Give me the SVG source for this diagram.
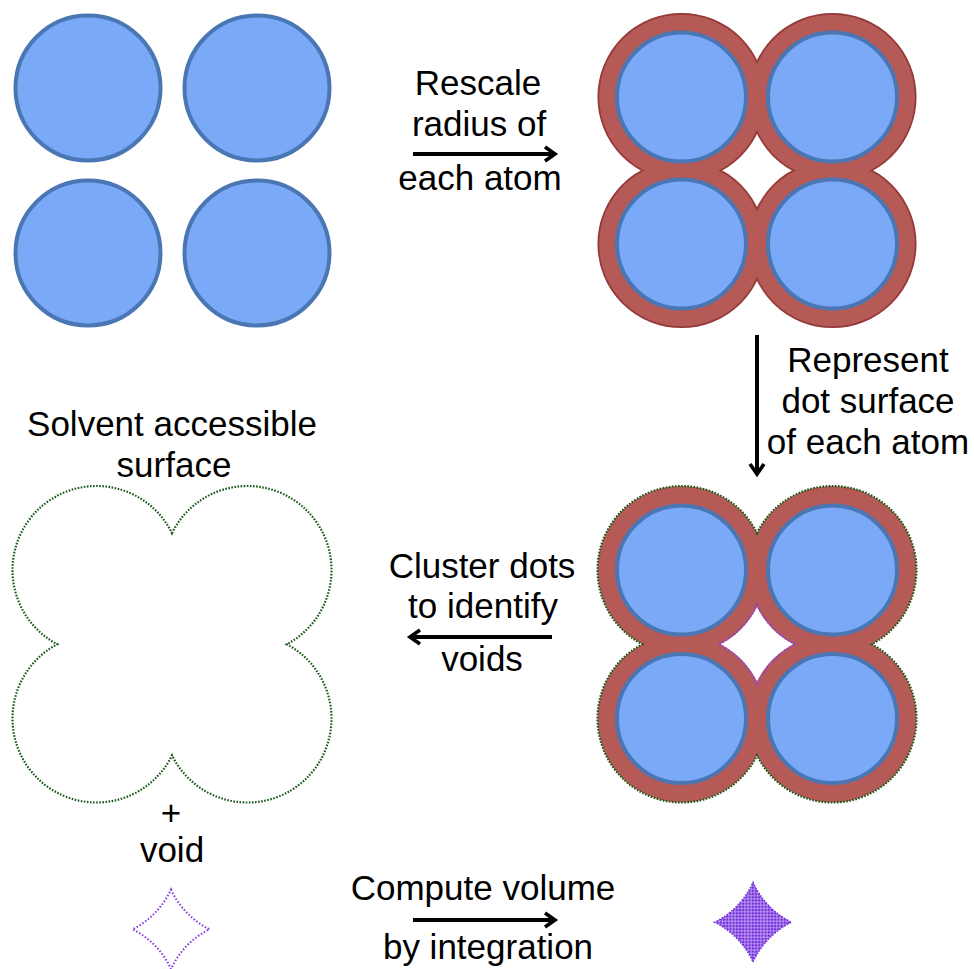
<svg xmlns="http://www.w3.org/2000/svg" width="974" height="969" viewBox="0 0 974 969">
<style>
.atom{fill:#7aa9f7;stroke:#4a76b3;stroke-width:4}
.shell{fill:#b55a57}
.shellEdge{fill:none;stroke:#943a38;stroke-width:3.5}
.sas{fill:none;stroke:#1a5a1a;stroke-width:2.2;stroke-dasharray:1.6 1.5}
.voidline{fill:none;stroke:#8a3fe0;stroke-width:2;stroke-dasharray:1.6 1.8}
.lbl{font-family:"Liberation Sans",Arial,sans-serif;font-size:35px;fill:#000;text-anchor:middle}
.conn{fill:none;stroke:#000;stroke-width:4}
</style>
<defs>
<marker id="arr" markerUnits="userSpaceOnUse" viewBox="0 0 16 20" markerWidth="16" markerHeight="20" refX="12" refY="10" orient="auto">
<path d="M2,3 L12,10 L2,17" fill="none" stroke="#000" stroke-width="3.6" stroke-linejoin="miter"/>
</marker>
<pattern id="dots" patternUnits="userSpaceOnUse" width="3.2" height="3.2">
<circle cx="1.6" cy="1.6" r="1.2" fill="#6f28d8"/>
</pattern>
<path id="outer" d="M757,533.18 A84,84 0 1 1 871.78,644.25 A84,84 0 1 1 757,755.32 A84,84 0 1 1 642.22,644.25 A84,84 0 1 1 757,533.18 Z"/>
<path id="diamond" d="M757,604.48 A83,83 0 0 0 795.41,644.25 A83,83 0 0 0 757,684.02 A83,83 0 0 0 718.59,644.25 A83,83 0 0 0 757,604.48 Z"/>
</defs>

<g id="atoms">
<circle class="atom" cx="88" cy="88" r="72.5"/>
<circle class="atom" cx="257" cy="88" r="72.5"/>
<circle class="atom" cx="88" cy="253" r="72.5"/>
<circle class="atom" cx="257" cy="253" r="72.5"/>
</g>

<g id="rescaled">
<circle class="shellEdge" cx="681.5" cy="97" r="82.3"/>
<circle class="shellEdge" cx="832.5" cy="97" r="82.3"/>
<circle class="shellEdge" cx="681.5" cy="244" r="82.3"/>
<circle class="shellEdge" cx="832.5" cy="244" r="82.3"/>
<circle class="shell" cx="681.5" cy="97" r="82.3"/>
<circle class="shell" cx="832.5" cy="97" r="82.3"/>
<circle class="shell" cx="681.5" cy="244" r="82.3"/>
<circle class="shell" cx="832.5" cy="244" r="82.3"/>
<circle class="atom" cx="681.5" cy="97" r="64.5"/>
<circle class="atom" cx="832.5" cy="97" r="64.5"/>
<circle class="atom" cx="681.5" cy="244" r="64.5"/>
<circle class="atom" cx="832.5" cy="244" r="64.5"/>
</g>

<g id="dotsurface">
<circle class="shell" cx="681.5" cy="570" r="84"/>
<circle class="shell" cx="832.5" cy="570" r="84"/>
<circle class="shell" cx="681.5" cy="718.5" r="84"/>
<circle class="shell" cx="832.5" cy="718.5" r="84"/>
<use href="#outer" class="sas"/>
<use href="#diamond" class="voidline"/>
<circle class="atom" cx="681.5" cy="570" r="64.5"/>
<circle class="atom" cx="832.5" cy="570" r="64.5"/>
<circle class="atom" cx="681.5" cy="718.5" r="64.5"/>
<circle class="atom" cx="832.5" cy="718.5" r="64.5"/>
</g>

<g id="sas">
<use href="#outer" class="sas" transform="translate(-585,0)"/>
</g>

<g id="void">
<use href="#diamond" class="voidline" transform="translate(-586,285)"/>
</g>

<g id="voidvolume">
<use href="#diamond" transform="translate(-4,278)" fill="#b592ef" stroke="#7a33df" stroke-width="1.6" stroke-dasharray="1.4 1.6"/>
<use href="#diamond" transform="translate(-4,278)" fill="url(#dots)"/>
</g>

<g id="connectors">
<line class="conn" x1="413" y1="154" x2="555" y2="154" marker-end="url(#arr)"/>
<line class="conn" x1="757" y1="335" x2="757" y2="474" marker-end="url(#arr)"/>
<line class="conn" x1="552" y1="637" x2="410" y2="637" marker-end="url(#arr)"/>
<line class="conn" x1="413" y1="920" x2="555" y2="920" marker-end="url(#arr)"/>
</g>

<g id="labels">
<text class="lbl" x="478" y="95">Rescale</text>
<text class="lbl" x="479" y="136">radius of</text>
<text class="lbl" x="480" y="190">each atom</text>
<text class="lbl" x="868" y="372">Represent</text>
<text class="lbl" x="868" y="413">dot surface</text>
<text class="lbl" x="868" y="454">of each atom</text>
<text class="lbl" x="172" y="436">Solvent accessible</text>
<text class="lbl" x="174" y="477">surface</text>
<text class="lbl" x="482" y="578">Cluster dots</text>
<text class="lbl" x="483" y="618">to identify</text>
<text class="lbl" x="482" y="671">voids</text>
<text class="lbl" x="171" y="825">+</text>
<text class="lbl" x="172" y="862">void</text>
<text class="lbl" x="483" y="900">Compute volume</text>
<text class="lbl" x="488" y="959">by integration</text>
</g>
</svg>
